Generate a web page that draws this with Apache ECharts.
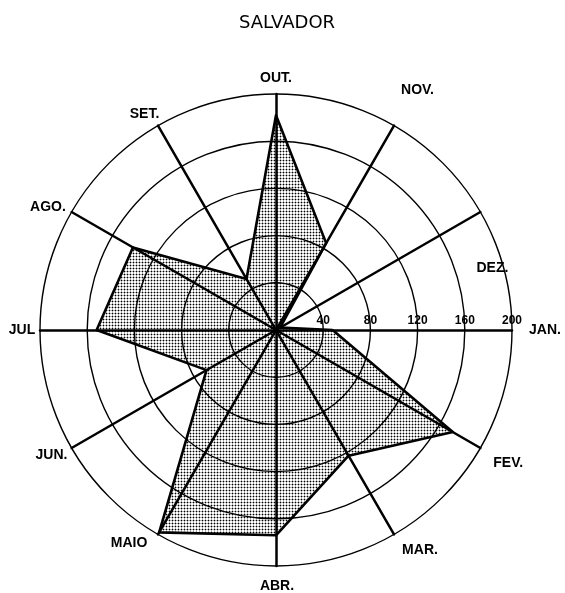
<!DOCTYPE html>
<html>
<head>
<meta charset="utf-8">
<script src="https://cdn.jsdelivr.net/npm/echarts@6/dist/echarts.min.js"></script>
<style>
html, body { margin: 0; background: #fff; }
#chart { width: 565px; height: 593px; }
</style>
</head>
<body>
<div id="chart"></div>
<script>
// monthly values, JAN -> DEZ
const months = ['JAN.', 'FEV.', 'MAR.', 'ABR.', 'MAIO', 'JUN.', 'JUL', 'AGO.', 'SET.', 'OUT.', 'NOV.', 'DEZ.']
const values = [48, 173, 123, 174, 198, 68, 152, 140, 50, 182, 85, 4]
const maxValue = 200
const ringCount = 5

// radar goes counter-clockwise, the chart goes clockwise from JAN
const order = [0, 11, 10, 9, 8, 7, 6, 5, 4, 3, 2, 1]

// label placement: gap from the outer ring, sideways nudge, drop below anchor
const nameGaps = [33, 31, 18, 20, 10, 14, 18, 10, 13, 16, 41, 0]
const nudgeX = [0, 1, 17, 1, -24, -8, 0, -15, -7, 0, 3, 12]
const dropY = [0, 0, 0, 0, 0, 0, 0, 0, 0, 0, 0, 49]

// dotted fill
const dots = document.createElement('canvas')
dots.width = 3
dots.height = 3
const ctx = dots.getContext('2d')
ctx.fillStyle = '#fff'
ctx.fillRect(0, 0, 3, 3)
ctx.fillStyle = '#aaa'
ctx.fillRect(0, 1, 3, 1)
ctx.fillRect(1, 0, 1, 3)
ctx.fillStyle = '#000'
ctx.fillRect(1, 1, 1, 1)

const font = 'Liberation Sans'

const indicator = order.map((i) => {
    const dx = nudgeX[i]
    const style = { padding: [0, dx < 0 ? -2 * dx : 0, 0, dx > 0 ? 2 * dx : 0] }
    if (dropY[i]) {
        style.verticalAlign = 'top'
        style.padding[0] = dropY[i]
    }
    const ind = {
        name: months[i],
        min: 0,
        max: maxValue,
        nameGap: nameGaps[i],
        nameTextStyle: style,
    }
    if (i === 0) {
        ind.axisLabel = {
            show: true,
            color: '#000',
            fontFamily: font,
            fontWeight: 'bold',
            fontSize: 12,
            margin: 3,
            formatter: (v) => (v === 0 ? '' : v),
        }
    }
    return ind
})

const seriesData = [{ value: order.map((i) => values[i]), name: 'SALVADOR' }]

const chart = echarts.init(document.getElementById('chart'))
chart.setOption({
    animation: false,
    title: {
        text: 'SALVADOR',
        left: 282,
        top: 9,
        textAlign: 'center',
        textStyle: {
            fontFamily: 'DejaVu Sans',
            fontWeight: 'normal',
            fontSize: 18,
            color: '#000',
        },
    },
    radar: {
        z: 3,
        center: [276, 330],
        radius: 236,
        startAngle: 0,
        shape: 'circle',
        splitNumber: ringCount,
        indicator: indicator,
        axisName: {
            color: '#000',
            fontFamily: font,
            fontWeight: 'bold',
            fontSize: 14,
            align: 'center',
            verticalAlign: 'middle',
        },
        axisLine: { lineStyle: { color: '#000', width: 2.5 } },
        splitLine: { lineStyle: { color: '#000', width: 1.4 } },
        splitArea: { show: false },
        axisTick: { show: false },
        axisLabel: { show: false },
    },
    series: [
        {
            type: 'radar',
            z: 2,
            symbol: 'none',
            lineStyle: { width: 0 },
            areaStyle: { color: { image: dots, repeat: 'repeat' }, opacity: 1 },
            data: seriesData,
        },
        {
            type: 'radar',
            z: 4,
            symbol: 'none',
            lineStyle: { color: '#000', width: 2.6 },
            data: seriesData,
        },
    ],
})
</script>
</body>
</html>
